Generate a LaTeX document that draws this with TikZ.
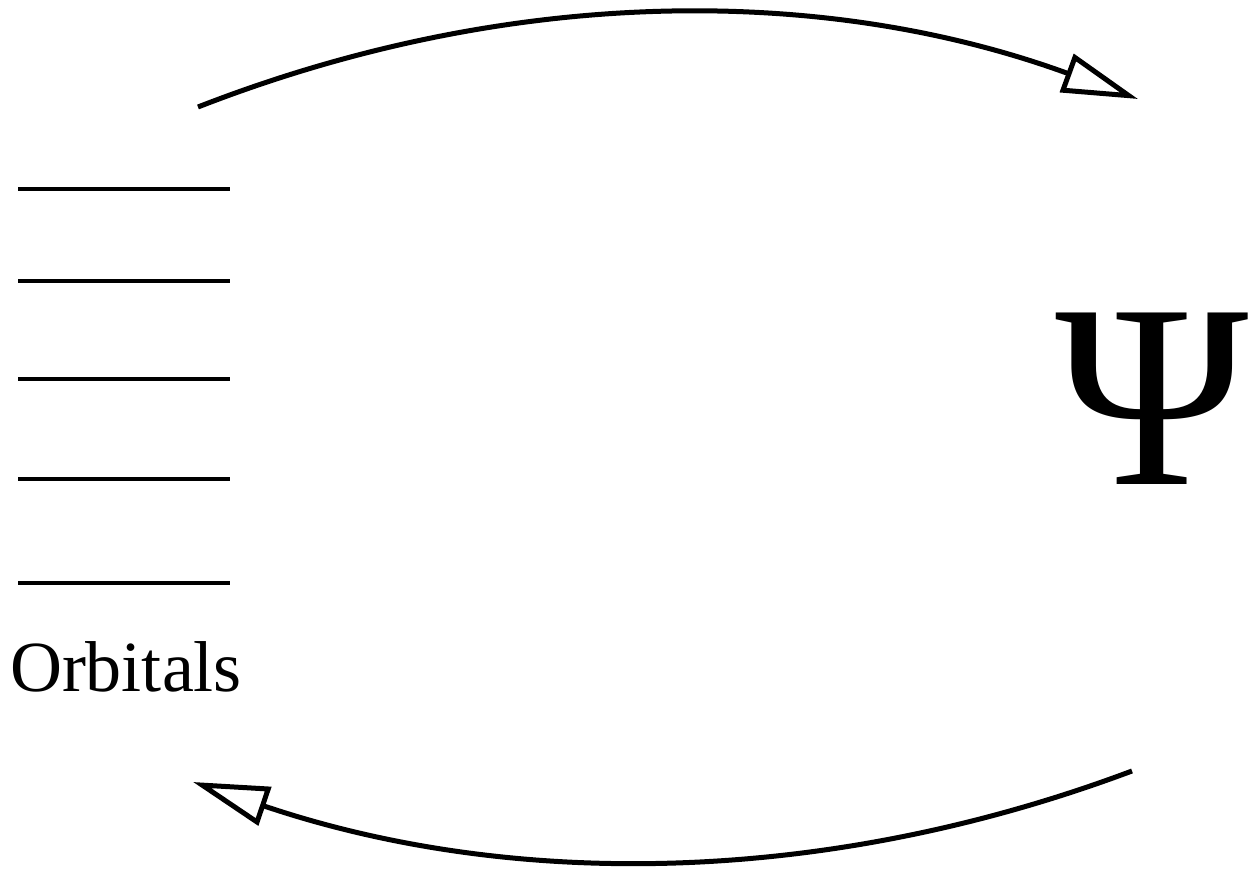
\documentclass[tikz,border=0pt]{standalone}
\usepackage{fontspec}
\setmainfont{Liberation Serif}
\usetikzlibrary{arrows.meta}
\tikzset{
  level/.style={line width=4pt},
  cycle/.style={line width=5pt,-{Triangle[open,fill=white,line width=5pt,length=76pt,width=40pt]}},
  lbl/.style={inner sep=0pt,anchor=base}
}
\begin{document}
\begin{tikzpicture}[x=1pt,y=1pt]
\useasboundingbox (0,0) rectangle (1248,871);
\foreach \yy/\n in {682/a,590/b,492/c,392/d,288/e}{
  \draw[level] (18,\yy) coordinate (l\n) -- (230,\yy) coordinate (r\n);
}
\node[lbl,font=\fontsize{72}{80}\selectfont] (orb) at (126,179) {Orbitals};
\node[lbl,font=\fontsize{262}{280}\selectfont] (psi) at (1152,386) {Ψ};
\coordinate (t1) at (198,764);
\coordinate (t2) at (1138,772);
\coordinate (b1) at (1132,100);
\coordinate (b2) at (193,89);
\draw[cycle] (t1) .. controls (511,886) and (825,886) .. (t2);
\draw[cycle] (b1) .. controls (820,-17) and (507,-17) .. (b2);
\end{tikzpicture}
\end{document}
